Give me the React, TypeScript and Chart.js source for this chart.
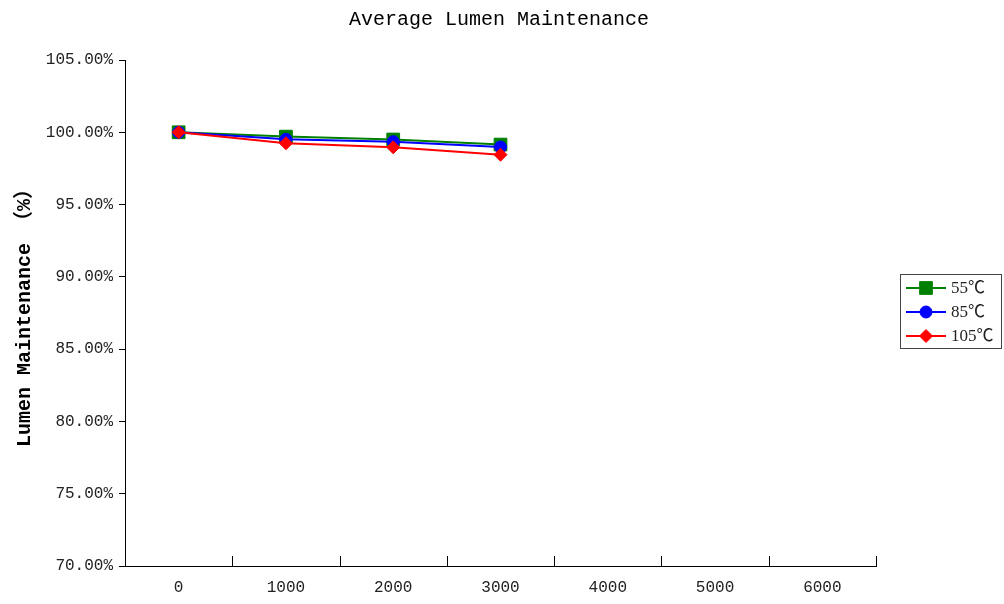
import { useEffect, useRef } from 'react';
import { Chart, registerables } from 'chart.js';
import { drawPoint } from 'chart.js/helpers';

Chart.register(...registerables);

const chartTitle = 'Average Lumen Maintenance';
const yAxisTitle = 'Lumen Maintenance （%）';
const hourLabels = ['0', '1000', '2000', '3000', '4000', '5000', '6000'];
const series55 = [100, 99.7, 99.5, 99.15];
const series85 = [100, 99.51, 99.35, 98.98];
const series105 = [100, 99.24, 98.96, 98.45];
const seriesNames = ['55℃', '85℃', '105℃'];
const seriesColors = ['#008000', '#0000FF', '#FF0000'];
const seriesMarkers = ['rect', 'circle', 'rectRot'];
const seriesMarkerRadius = [9, 6, 6.5];
const yMin = 70;
const yMax = 105;
const yStep = 5;

const MONO = "'Liberation Mono', 'Noto Sans CJK SC', monospace";
const SERIF = "'Liberation Serif', 'Noto Sans CJK SC', serif";

const titlePlugin = {
  id: 'centerTitle',
  afterDraw(chart: any) {
    const ctx = chart.ctx;
    ctx.save();
    ctx.fillStyle = '#000';
    ctx.font = `20px ${MONO}`;
    ctx.textAlign = 'center';
    ctx.textBaseline = 'middle';
    ctx.fillText(chartTitle, 499, 20);
    ctx.restore();
  },
};

const innerTicksPlugin = {
  id: 'innerTicks',
  afterDraw(chart: any) {
    const xs = chart.scales.x;
    const ctx = chart.ctx;
    const n = hourLabels.length;
    ctx.save();
    ctx.strokeStyle = '#000';
    ctx.lineWidth = 1;
    for (let i = 0; i <= n; i++) {
      const x = Math.round(xs.getPixelForValue(i - 0.5)) + 0.5;
      ctx.beginPath();
      ctx.moveTo(x, xs.top);
      ctx.lineTo(x, xs.top - 10);
      ctx.stroke();
    }
    ctx.restore();
  },
};

const legendPlugin = {
  id: 'boxLegend',
  afterDraw(chart: any) {
    const ctx = chart.ctx;
    const bx = 900.5, by = 274.5, bw = 101, bh = 74;
    ctx.save();
    ctx.fillStyle = '#fff';
    ctx.fillRect(bx, by, bw, bh);
    ctx.strokeStyle = '#444';
    ctx.lineWidth = 1;
    ctx.strokeRect(bx, by, bw, bh);
    chart.data.datasets.forEach((ds: any, i: number) => {
      const cy = 288 + i * 24;
      ctx.strokeStyle = ds.borderColor;
      ctx.lineWidth = 2;
      ctx.beginPath();
      ctx.moveTo(906, cy);
      ctx.lineTo(946, cy);
      ctx.stroke();
      ctx.fillStyle = ds.backgroundColor;
      ctx.strokeStyle = ds.borderColor;
      ctx.lineWidth = 1;
      drawPoint(ctx, { pointStyle: ds.pointStyle, rotation: 0, radius: ds.pointRadius, borderWidth: 1 } as any, 926, cy);
      ctx.fillStyle = '#222';
      ctx.font = `17px ${SERIF}`;
      ctx.textBaseline = 'middle';
      ctx.textAlign = 'left';
      ctx.fillText(ds.label, 951, cy + 1);
    });
    ctx.restore();
  },
};

export default function App() {
  const canvasRef = useRef<HTMLCanvasElement | null>(null);

  useEffect(() => {
    if (!canvasRef.current) return;
    const allSeries = [series55, series85, series105];
    const chart = new Chart(canvasRef.current, {
      type: 'line',
      data: {
        labels: hourLabels,
        datasets: allSeries.map((vals, i) => ({
          label: seriesNames[i],
          data: vals,
          order: allSeries.length - i,
          borderColor: seriesColors[i],
          backgroundColor: seriesColors[i],
          borderWidth: 2,
          pointStyle: seriesMarkers[i] as any,
          pointRadius: seriesMarkerRadius[i],
          pointBorderWidth: 1,
          tension: 0,
          fill: false,
        })),
      },
      options: {
        animation: false,
        responsive: false,
        devicePixelRatio: 1,
        layout: { padding: { left: 0, right: 128, top: 60, bottom: 8 } },
        plugins: {
          legend: { display: false },
          tooltip: { enabled: false },
          title: { display: false },
        },
        scales: {
          x: {
            type: 'category',
            offset: true,
            afterFit: (scale: any) => {
              scale.height = 30;
            },
            grid: { display: false, drawTicks: false },
            border: { display: true, color: '#000', width: 1 },
            ticks: {
              color: '#222',
              font: { family: MONO, size: 16 },
              padding: 12,
              maxRotation: 0,
              autoSkip: false,
            },
          },
          y: {
            min: yMin,
            max: yMax,
            afterFit: (scale: any) => {
              scale.width = 125;
            },
            grid: {
              display: true,
              drawOnChartArea: false,
              drawTicks: true,
              tickLength: 6,
              color: '#000',
            },
            border: { display: true, color: '#000', width: 1 },
            ticks: {
              stepSize: yStep,
              color: '#222',
              padding: 6,
              font: { family: MONO, size: 16 },
              callback: (v: any) => Number(v).toFixed(2) + '%',
            },
            title: {
              display: true,
              text: yAxisTitle,
              color: '#000',
              font: { family: MONO, size: 20, weight: 'bold' },
              padding: { top: 13, bottom: 0 },
            },
          },
        },
      },
      plugins: [titlePlugin, innerTicksPlugin, legendPlugin],
    });
    return () => chart.destroy();
  }, []);

  return (
    <div style={{ position: 'fixed', left: 0, top: 0, width: 1004, height: 604, background: '#fff' }}>
      <canvas ref={canvasRef} width={1004} height={604} />
    </div>
  );
}
